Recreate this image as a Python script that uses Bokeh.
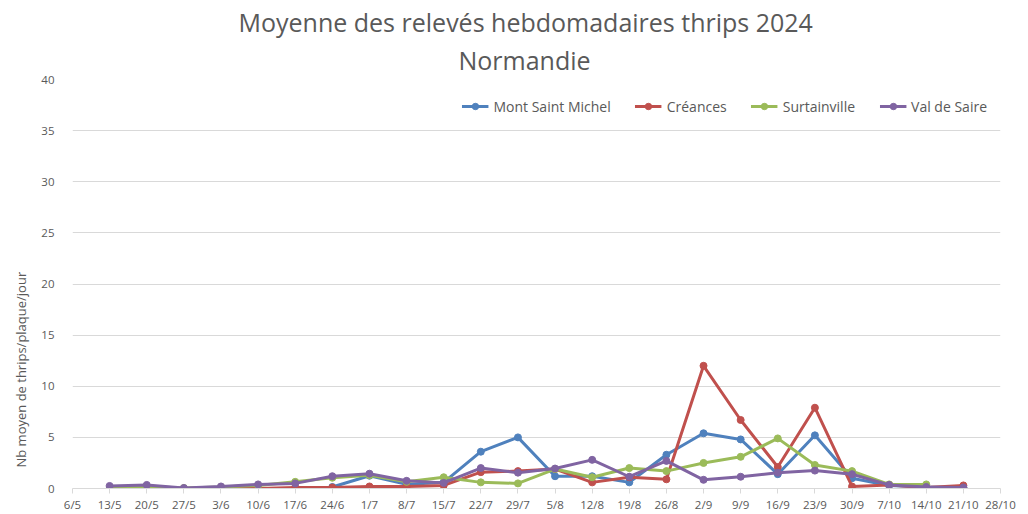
import math
from bokeh.plotting import figure
from bokeh.models import Range1d, FixedTicker, Title, Legend
from bokeh.embed import file_html
from bokeh.resources import INLINE

# ---- data ----
tick_labels = ["6/5", "13/5", "20/5", "27/5", "3/6", "10/6", "17/6", "24/6", "1/7", "8/7",
               "15/7", "22/7", "29/7", "5/8", "12/8", "19/8", "26/8", "2/9", "9/9", "16/9",
               "23/9", "30/9", "7/10", "14/10", "21/10", "28/10"]
weeks = tick_labels[1:25]  # 13/5 .. 21/10
nan = float("nan")
mont_saint_michel = [nan, nan, nan, nan, nan, nan, 0.15, 1.25, 0.4, 0.6, 3.6, 5.0,
                     1.2, 1.2, 0.6, 3.3, 5.4, 4.8, 1.4, 5.2, 1.0, 0.3, 0.15, 0.1]
creances = [nan, nan, nan, 0.0, 0.0, 0.1, 0.1, 0.2, 0.2, 0.3, 1.6, 1.7,
            1.9, 0.6, 1.1, 0.9, 12.0, 6.7, 2.1, 7.9, 0.2, 0.35, 0.1, 0.3]
surtainville = [0.0, 0.2, 0.05, 0.15, 0.3, 0.65, 1.05, 1.3, 0.65, 1.1, 0.6, 0.5,
                1.9, 1.1, 2.0, 1.7, 2.5, 3.1, 4.9, 2.3, 1.7, 0.4, 0.4, nan]
val_de_saire = [0.25, 0.35, 0.05, 0.2, 0.4, 0.5, 1.2, 1.45, 0.75, 0.55, 2.0, 1.55,
                1.95, 2.8, 1.15, 2.7, 0.85, 1.15, 1.55, 1.75, 1.4, 0.35, 0.15, 0.1]
series_names = ["Mont Saint Michel", "Créances", "Surtainville", "Val de Saire"]
series_values = [mont_saint_michel, creances, surtainville, val_de_saire]
series_colors = ["#4F81BD", "#C0504D", "#9BBB59", "#8064A2"]

FONT = "Open Sans"
TXT = "#595959"
GRID = "#D9D9D9"

x_pos = [tick_labels.index(w) for w in weeks]

p = figure(width=1028, height=514, output_backend="svg", toolbar_location=None,
           x_range=Range1d(0, len(tick_labels) - 1), y_range=Range1d(0, 40),
           min_border_left=70, min_border_right=28, min_border_top=79, min_border_bottom=26)
p.outline_line_color = None
p.background_fill_color = "white"
p.border_fill_color = "white"

# titles
p.add_layout(Title(text="Normandie", align="left", offset=386, text_font=FONT,
                   text_font_size="25px", text_color=TXT, text_font_style="normal",
                   standoff=5), "above")
p.add_layout(Title(text="Moyenne des relevés hebdomadaires thrips 2024", align="left",
                   offset=166, text_font=FONT, text_font_size="25px", text_color=TXT,
                   text_font_style="normal", standoff=0), "above")

# y axis title
p.add_layout(Title(text="Nb moyen de thrips/plaque/jour", align="left", offset=21,
                   text_font=FONT, text_font_size="13px", text_color=TXT,
                   text_font_style="normal", standoff=18), "left")

# axes
p.xaxis.ticker = FixedTicker(ticks=list(range(len(tick_labels))))
p.xaxis.major_label_overrides = {i: t for i, t in enumerate(tick_labels)}
p.xaxis.axis_line_color = GRID
p.xaxis.major_tick_line_color = GRID
p.xaxis.major_tick_in = 0
p.xaxis.major_tick_out = 5
p.xaxis.minor_tick_line_color = None
p.xaxis.major_label_standoff = 3
p.xaxis.major_label_text_font = FONT
p.xaxis.major_label_text_font_size = "11.5px"
p.xaxis.major_label_text_color = TXT

p.yaxis.ticker = FixedTicker(ticks=list(range(0, 41, 5)))
p.yaxis.axis_line_color = None
p.yaxis.major_tick_line_color = None
p.yaxis.minor_tick_line_color = None
p.yaxis.major_label_standoff = 12
p.yaxis.major_label_text_font = FONT
p.yaxis.major_label_text_font_size = "11.5px"
p.yaxis.major_label_text_color = TXT

p.xgrid.grid_line_color = None
p.ygrid.grid_line_color = GRID
p.ygrid.grid_line_width = 1

# series
items = []
for name, vals, col in zip(series_names, series_values, series_colors):
    r1 = p.line(x_pos, vals, line_color=col, line_width=3)
    r2 = p.scatter(x_pos, vals, size=7, fill_color=col, line_color=col)
    items.append((name, [r1, r2]))

legend = Legend(items=items, orientation="horizontal", location="top_right",
                glyph_width=27, glyph_height=16, label_height=28, label_standoff=5, spacing=24,
                padding=0, margin=13, border_line_color=None, background_fill_alpha=0,
                label_text_font=FONT, label_text_font_size="14px", label_text_color=TXT)
p.add_layout(legend)

open("out.html", "w").write(file_html(p, INLINE))
